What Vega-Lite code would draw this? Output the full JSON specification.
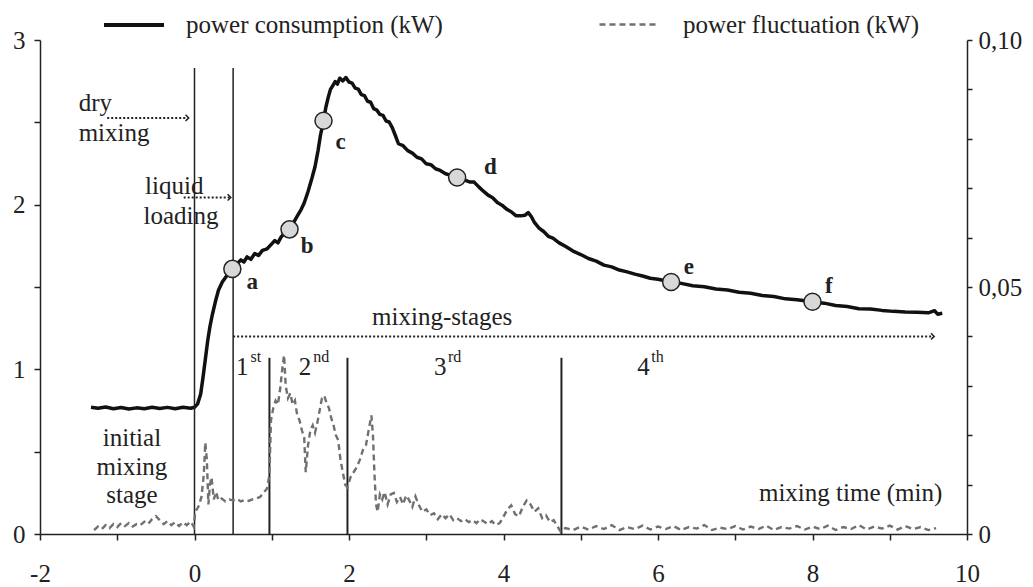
{
  "$schema": "https://vega.github.io/schema/vega-lite/v6.json",
  "width": 927,
  "height": 494,
  "autosize": {"type": "none"},
  "padding": {"left": 40, "top": 40, "right": 66, "bottom": 53},
  "background": "white",
  "config": {
    "view": {"stroke": null},
    "axis": {
      "grid": false,
      "domainColor": "#222222",
      "domainWidth": 1.5,
      "tickColor": "#222222",
      "tickWidth": 1.5,
      "tickSize": 6,
      "labelFont": "Liberation Serif",
      "labelFontSize": 25,
      "labelColor": "#222222",
      "title": null
    },
    "legend": {
      "padding": 0,
      "labelFont": "Liberation Serif",
      "labelFontSize": 25,
      "labelColor": "#222222",
      "labelLimit": 500,
      "symbolType": "stroke",
      "title": null
    }
  },
  "layer": [
    {
      "layer": [
        {
          "data": {"values": [
            {"x": -1.34, "y": 0.77}, {"x": -1.25, "y": 0.764}, {"x": -1.15, "y": 0.771}, {"x": -1.05, "y": 0.761},
            {"x": -0.95, "y": 0.768}, {"x": -0.85, "y": 0.759}, {"x": -0.75, "y": 0.766}, {"x": -0.65, "y": 0.761},
            {"x": -0.55, "y": 0.77}, {"x": -0.45, "y": 0.762}, {"x": -0.35, "y": 0.769}, {"x": -0.25, "y": 0.761},
            {"x": -0.15, "y": 0.77}, {"x": -0.05, "y": 0.764}, {"x": 0.0, "y": 0.77}, {"x": 0.04, "y": 0.79},
            {"x": 0.08, "y": 0.85}, {"x": 0.11, "y": 0.95}, {"x": 0.14, "y": 1.06}, {"x": 0.17, "y": 1.17},
            {"x": 0.2, "y": 1.26}, {"x": 0.23, "y": 1.33}, {"x": 0.27, "y": 1.41}, {"x": 0.31, "y": 1.48},
            {"x": 0.36, "y": 1.53}, {"x": 0.42, "y": 1.57}, {"x": 0.49, "y": 1.61}, {"x": 0.55, "y": 1.64},
            {"x": 0.6, "y": 1.665}, {"x": 0.64, "y": 1.652}, {"x": 0.68, "y": 1.683}, {"x": 0.73, "y": 1.668},
            {"x": 0.78, "y": 1.703}, {"x": 0.83, "y": 1.692}, {"x": 0.88, "y": 1.722}, {"x": 0.94, "y": 1.732},
            {"x": 1.0, "y": 1.762}, {"x": 1.04, "y": 1.782}, {"x": 1.08, "y": 1.768}, {"x": 1.12, "y": 1.803},
            {"x": 1.17, "y": 1.83}, {"x": 1.23, "y": 1.85}, {"x": 1.28, "y": 1.89}, {"x": 1.33, "y": 1.93},
            {"x": 1.38, "y": 1.97}, {"x": 1.42, "y": 2.01}, {"x": 1.47, "y": 2.08}, {"x": 1.52, "y": 2.16},
            {"x": 1.56, "y": 2.23}, {"x": 1.6, "y": 2.33}, {"x": 1.63, "y": 2.42}, {"x": 1.67, "y": 2.51},
            {"x": 1.7, "y": 2.59}, {"x": 1.73, "y": 2.65}, {"x": 1.76, "y": 2.7}, {"x": 1.79, "y": 2.722},
            {"x": 1.82, "y": 2.748}, {"x": 1.85, "y": 2.732}, {"x": 1.88, "y": 2.768}, {"x": 1.92, "y": 2.752},
            {"x": 1.96, "y": 2.772}, {"x": 2.0, "y": 2.745}, {"x": 2.04, "y": 2.738}, {"x": 2.08, "y": 2.708},
            {"x": 2.12, "y": 2.702}, {"x": 2.16, "y": 2.668}, {"x": 2.2, "y": 2.662}, {"x": 2.24, "y": 2.628},
            {"x": 2.28, "y": 2.622}, {"x": 2.32, "y": 2.583}, {"x": 2.36, "y": 2.574}, {"x": 2.4, "y": 2.548},
            {"x": 2.44, "y": 2.542}, {"x": 2.48, "y": 2.508}, {"x": 2.52, "y": 2.502}, {"x": 2.56, "y": 2.468},
            {"x": 2.6, "y": 2.42}, {"x": 2.64, "y": 2.37}, {"x": 2.7, "y": 2.358}, {"x": 2.76, "y": 2.328},
            {"x": 2.82, "y": 2.313}, {"x": 2.88, "y": 2.288}, {"x": 2.94, "y": 2.278}, {"x": 3.0, "y": 2.248},
            {"x": 3.06, "y": 2.243}, {"x": 3.12, "y": 2.218}, {"x": 3.18, "y": 2.208}, {"x": 3.25, "y": 2.188},
            {"x": 3.32, "y": 2.178}, {"x": 3.4, "y": 2.165}, {"x": 3.48, "y": 2.152}, {"x": 3.56, "y": 2.138},
            {"x": 3.62, "y": 2.137}, {"x": 3.68, "y": 2.108}, {"x": 3.74, "y": 2.082}, {"x": 3.8, "y": 2.058},
            {"x": 3.86, "y": 2.042}, {"x": 3.92, "y": 2.013}, {"x": 3.98, "y": 1.997}, {"x": 4.04, "y": 1.973},
            {"x": 4.1, "y": 1.957}, {"x": 4.16, "y": 1.933}, {"x": 4.22, "y": 1.932}, {"x": 4.28, "y": 1.936},
            {"x": 4.32, "y": 1.952}, {"x": 4.36, "y": 1.928}, {"x": 4.4, "y": 1.892}, {"x": 4.46, "y": 1.858},
            {"x": 4.52, "y": 1.837}, {"x": 4.58, "y": 1.808}, {"x": 4.64, "y": 1.797}, {"x": 4.72, "y": 1.768},
            {"x": 4.8, "y": 1.747}, {"x": 4.9, "y": 1.718}, {"x": 5.0, "y": 1.697}, {"x": 5.1, "y": 1.673},
            {"x": 5.2, "y": 1.657}, {"x": 5.3, "y": 1.633}, {"x": 5.4, "y": 1.622}, {"x": 5.5, "y": 1.603},
            {"x": 5.6, "y": 1.592}, {"x": 5.7, "y": 1.578}, {"x": 5.8, "y": 1.567}, {"x": 5.9, "y": 1.553},
            {"x": 6.0, "y": 1.547}, {"x": 6.17, "y": 1.53}, {"x": 6.3, "y": 1.522}, {"x": 6.45, "y": 1.508},
            {"x": 6.6, "y": 1.502}, {"x": 6.75, "y": 1.488}, {"x": 6.9, "y": 1.482}, {"x": 7.05, "y": 1.468},
            {"x": 7.2, "y": 1.462}, {"x": 7.35, "y": 1.448}, {"x": 7.5, "y": 1.442}, {"x": 7.65, "y": 1.428},
            {"x": 7.8, "y": 1.422}, {"x": 8.0, "y": 1.41}, {"x": 8.15, "y": 1.402}, {"x": 8.3, "y": 1.388},
            {"x": 8.45, "y": 1.382}, {"x": 8.6, "y": 1.368}, {"x": 8.75, "y": 1.366}, {"x": 8.9, "y": 1.358},
            {"x": 9.05, "y": 1.352}, {"x": 9.2, "y": 1.348}, {"x": 9.35, "y": 1.346}, {"x": 9.5, "y": 1.343},
            {"x": 9.58, "y": 1.356}, {"x": 9.62, "y": 1.335}, {"x": 9.68, "y": 1.34}
          ]},
          "mark": {"type": "line", "strokeWidth": 3.5, "strokeJoin": "round"},
          "encoding": {
            "x": {"field": "x", "type": "quantitative", "title": null,
              "scale": {"domain": [-2, 10], "nice": false, "zero": false},
              "axis": {"values": [-2,-1.5,-1,-0.5,0,0.5,1,1.5,2,2.5,3,3.5,4,4.5,5,5.5,6,6.5,7,7.5,8,8.5,9,9.5,10],
                "labelExpr": "datum.value % 2 == 0 ? toString(datum.value) : ''",
                "labelPadding": 21, "labelFlush": false, "labelOverlap": false}},
            "y": {"field": "y", "type": "quantitative", "title": null,
              "scale": {"domain": [0, 3], "nice": false},
              "axis": {"orient": "left", "values": [0,0.5,1,1.5,2,2.5,3],
                "labelExpr": "datum.value % 1 == 0 ? toString(datum.value) : ''",
                "labelPadding": 9, "labelFlush": false, "labelOverlap": false}},
            "color": {"datum": "power consumption (kW)", "type": "nominal",
              "scale": {"range": ["#111111"]},
              "legend": {"orient": "none", "legendX": 62, "legendY": -47, "symbolSize": 3600,
                "symbolStrokeWidth": 4, "labelOffset": 20}}
          }
        },
        {
          "data": {"values": [{"x": 0, "y": 0, "y2": 2.83}, {"x": 0.5, "y": 0, "y2": 2.83}]},
          "mark": {"type": "rule", "color": "#222222", "strokeWidth": 1.5},
          "encoding": {
            "x": {"field": "x", "type": "quantitative", "title": null},
            "y": {"field": "y", "type": "quantitative", "title": null},
            "y2": {"field": "y2"}
          }
        },
        {
          "data": {"values": [{"x": 0.97, "y": 0, "y2": 1.07}, {"x": 1.98, "y": 0, "y2": 1.07}, {"x": 4.75, "y": 0, "y2": 1.07}]},
          "mark": {"type": "rule", "color": "#222222", "strokeWidth": 2},
          "encoding": {
            "x": {"field": "x", "type": "quantitative", "title": null},
            "y": {"field": "y", "type": "quantitative", "title": null},
            "y2": {"field": "y2"}
          }
        },
        {
          "data": {"values": [
            {"x": -1.13, "x2": -0.09, "y": 2.527},
            {"x": -0.14, "x2": 0.455, "y": 2.044},
            {"x": 0.5, "x2": 9.56, "y": 1.2}
          ]},
          "mark": {"type": "rule", "color": "#222222", "strokeWidth": 2, "strokeDash": [2, 2]},
          "encoding": {
            "x": {"field": "x", "type": "quantitative", "title": null},
            "x2": {"field": "x2"},
            "y": {"field": "y", "type": "quantitative", "title": null}
          }
        },
        {
          "data": {"values": [
            {"x": -0.075, "y": 2.527},
            {"x": 0.47, "y": 2.044},
            {"x": 9.575, "y": 1.2}
          ]},
          "mark": {"type": "point", "shape": "M-1,-1L0,0L-1,1", "filled": false, "size": 40, "color": "#222222", "strokeWidth": 1.5, "opacity": 1},
          "encoding": {
            "x": {"field": "x", "type": "quantitative", "title": null},
            "y": {"field": "y", "type": "quantitative", "title": null}
          }
        },
        {
          "data": {"values": [
            {"x": 0.49, "y": 1.61}, {"x": 1.23, "y": 1.85}, {"x": 1.67, "y": 2.51},
            {"x": 3.4, "y": 2.165}, {"x": 6.17, "y": 1.53}, {"x": 8.0, "y": 1.41}
          ]},
          "mark": {"type": "point", "shape": "circle", "filled": true, "size": 290, "fill": "#d8d8d8", "stroke": "#222222", "strokeWidth": 1.5, "opacity": 1},
          "encoding": {
            "x": {"field": "x", "type": "quantitative", "title": null},
            "y": {"field": "y", "type": "quantitative", "title": null}
          }
        },
        {
          "data": {"values": [
            {"x": 0.747, "y": 1.53, "t": "a"}, {"x": 1.459, "y": 1.752, "t": "b"}, {"x": 1.89, "y": 2.378, "t": "c"},
            {"x": 3.83, "y": 2.226, "t": "d"}, {"x": 6.4, "y": 1.62, "t": "e"}, {"x": 8.21, "y": 1.509, "t": "f"}
          ]},
          "mark": {"type": "text", "font": "Liberation Serif", "fontSize": 23, "fontWeight": "bold", "color": "#222222", "align": "center", "baseline": "middle"},
          "encoding": {
            "x": {"field": "x", "type": "quantitative", "title": null},
            "y": {"field": "y", "type": "quantitative", "title": null},
            "text": {"field": "t"}
          }
        },
        {
          "data": {"values": [
            {"x": -1.5, "y": 2.57, "t": "dry"},
            {"x": -1.5, "y": 2.385, "t": "mixing"},
            {"x": -0.64, "y": 2.067, "t": "liquid"},
            {"x": -0.66, "y": 1.885, "t": "loading"}
          ]},
          "mark": {"type": "text", "font": "Liberation Serif", "fontSize": 25, "color": "#222222", "align": "left", "baseline": "alphabetic"},
          "encoding": {
            "x": {"field": "x", "type": "quantitative", "title": null},
            "y": {"field": "y", "type": "quantitative", "title": null},
            "text": {"field": "t"}
          }
        },
        {
          "data": {"values": [
            {"x": 3.206, "y": 1.272, "t": "mixing-stages"},
            {"x": -0.81, "y": 0.532, "t": "initial"},
            {"x": -0.81, "y": 0.357, "t": "mixing"},
            {"x": -0.81, "y": 0.19, "t": "stage"}
          ]},
          "mark": {"type": "text", "font": "Liberation Serif", "fontSize": 25, "color": "#222222", "align": "center", "baseline": "alphabetic"},
          "encoding": {
            "x": {"field": "x", "type": "quantitative", "title": null},
            "y": {"field": "y", "type": "quantitative", "title": null},
            "text": {"field": "t"}
          }
        },
        {
          "data": {"values": [{"x": 9.68, "y": 0.2, "t": "mixing time (min)"}]},
          "mark": {"type": "text", "font": "Liberation Serif", "fontSize": 25, "color": "#222222", "align": "right", "baseline": "alphabetic"},
          "encoding": {
            "x": {"field": "x", "type": "quantitative", "title": null},
            "y": {"field": "y", "type": "quantitative", "title": null},
            "text": {"field": "t"}
          }
        },
        {
          "data": {"values": [
            {"x": 0.7, "y": 0.964, "t": "1"}, {"x": 1.51, "y": 0.964, "t": "2"},
            {"x": 3.262, "y": 0.964, "t": "3"}, {"x": 5.894, "y": 0.964, "t": "4"}
          ]},
          "mark": {"type": "text", "font": "Liberation Serif", "fontSize": 25, "color": "#222222", "align": "right", "baseline": "alphabetic"},
          "encoding": {
            "x": {"field": "x", "type": "quantitative", "title": null},
            "y": {"field": "y", "type": "quantitative", "title": null},
            "text": {"field": "t"}
          }
        },
        {
          "data": {"values": [
            {"x": 0.725, "y": 1.044, "t": "st"}, {"x": 1.537, "y": 1.044, "t": "nd"},
            {"x": 3.28, "y": 1.044, "t": "rd"}, {"x": 5.912, "y": 1.044, "t": "th"}
          ]},
          "mark": {"type": "text", "font": "Liberation Serif", "fontSize": 16, "color": "#222222", "align": "left", "baseline": "alphabetic"},
          "encoding": {
            "x": {"field": "x", "type": "quantitative", "title": null},
            "y": {"field": "y", "type": "quantitative", "title": null},
            "text": {"field": "t"}
          }
        }
      ]
    },
    {
      "data": {"values": [
        {"x": -1.3, "v": 0.0008}, {"x": -1.25, "v": 0.0015}, {"x": -1.2, "v": 0.001}, {"x": -1.15, "v": 0.0018},
        {"x": -1.1, "v": 0.0012}, {"x": -1.05, "v": 0.002}, {"x": -1.0, "v": 0.0014}, {"x": -0.95, "v": 0.0022},
        {"x": -0.9, "v": 0.0016}, {"x": -0.85, "v": 0.0022}, {"x": -0.8, "v": 0.0015}, {"x": -0.75, "v": 0.002},
        {"x": -0.7, "v": 0.0018}, {"x": -0.65, "v": 0.0025}, {"x": -0.6, "v": 0.002}, {"x": -0.55, "v": 0.003},
        {"x": -0.5, "v": 0.0036}, {"x": -0.45, "v": 0.0028}, {"x": -0.4, "v": 0.002}, {"x": -0.35, "v": 0.0026},
        {"x": -0.3, "v": 0.0018}, {"x": -0.25, "v": 0.0024}, {"x": -0.2, "v": 0.0016}, {"x": -0.15, "v": 0.0024},
        {"x": -0.1, "v": 0.0018}, {"x": -0.05, "v": 0.0025}, {"x": -0.01, "v": 0.0015}, {"x": 0.01, "v": 0.0045},
        {"x": 0.05, "v": 0.0055}, {"x": 0.09, "v": 0.0075}, {"x": 0.12, "v": 0.012}, {"x": 0.14, "v": 0.0185},
        {"x": 0.16, "v": 0.015}, {"x": 0.18, "v": 0.006}, {"x": 0.2, "v": 0.01}, {"x": 0.22, "v": 0.0115},
        {"x": 0.25, "v": 0.007}, {"x": 0.28, "v": 0.0085}, {"x": 0.31, "v": 0.0068}, {"x": 0.35, "v": 0.0072},
        {"x": 0.4, "v": 0.0066}, {"x": 0.45, "v": 0.007}, {"x": 0.5, "v": 0.0068}, {"x": 0.55, "v": 0.0071},
        {"x": 0.6, "v": 0.0066}, {"x": 0.65, "v": 0.0069}, {"x": 0.7, "v": 0.0067}, {"x": 0.75, "v": 0.007},
        {"x": 0.8, "v": 0.0072}, {"x": 0.85, "v": 0.0075}, {"x": 0.9, "v": 0.0085}, {"x": 0.94, "v": 0.0092},
        {"x": 0.97, "v": 0.012}, {"x": 0.99, "v": 0.023}, {"x": 1.02, "v": 0.0255}, {"x": 1.05, "v": 0.027},
        {"x": 1.08, "v": 0.0262}, {"x": 1.11, "v": 0.0295}, {"x": 1.14, "v": 0.034}, {"x": 1.16, "v": 0.0362},
        {"x": 1.18, "v": 0.03}, {"x": 1.21, "v": 0.0275}, {"x": 1.24, "v": 0.0285}, {"x": 1.27, "v": 0.0262},
        {"x": 1.3, "v": 0.027}, {"x": 1.33, "v": 0.024}, {"x": 1.36, "v": 0.023}, {"x": 1.39, "v": 0.021},
        {"x": 1.42, "v": 0.0195}, {"x": 1.44, "v": 0.0125}, {"x": 1.47, "v": 0.018}, {"x": 1.5, "v": 0.021},
        {"x": 1.53, "v": 0.022}, {"x": 1.56, "v": 0.0205}, {"x": 1.59, "v": 0.0225}, {"x": 1.62, "v": 0.025},
        {"x": 1.65, "v": 0.0275}, {"x": 1.68, "v": 0.028}, {"x": 1.71, "v": 0.0265}, {"x": 1.74, "v": 0.0255},
        {"x": 1.77, "v": 0.0235}, {"x": 1.8, "v": 0.022}, {"x": 1.83, "v": 0.02}, {"x": 1.86, "v": 0.019},
        {"x": 1.89, "v": 0.015}, {"x": 1.92, "v": 0.0125}, {"x": 1.95, "v": 0.01}, {"x": 1.98, "v": 0.0095},
        {"x": 2.02, "v": 0.0115}, {"x": 2.06, "v": 0.0125}, {"x": 2.1, "v": 0.0135}, {"x": 2.14, "v": 0.015},
        {"x": 2.18, "v": 0.017}, {"x": 2.22, "v": 0.018}, {"x": 2.26, "v": 0.0215}, {"x": 2.29, "v": 0.024},
        {"x": 2.31, "v": 0.02}, {"x": 2.33, "v": 0.012}, {"x": 2.35, "v": 0.006}, {"x": 2.37, "v": 0.0045},
        {"x": 2.4, "v": 0.008}, {"x": 2.43, "v": 0.007}, {"x": 2.46, "v": 0.0085}, {"x": 2.5, "v": 0.006},
        {"x": 2.54, "v": 0.008}, {"x": 2.58, "v": 0.0083}, {"x": 2.62, "v": 0.0065}, {"x": 2.66, "v": 0.0075},
        {"x": 2.7, "v": 0.006}, {"x": 2.74, "v": 0.0078}, {"x": 2.78, "v": 0.0068}, {"x": 2.82, "v": 0.0055},
        {"x": 2.86, "v": 0.0076}, {"x": 2.9, "v": 0.006}, {"x": 2.95, "v": 0.0045}, {"x": 3.0, "v": 0.005},
        {"x": 3.05, "v": 0.0038}, {"x": 3.1, "v": 0.0042}, {"x": 3.15, "v": 0.003}, {"x": 3.2, "v": 0.004},
        {"x": 3.25, "v": 0.0032}, {"x": 3.3, "v": 0.004}, {"x": 3.35, "v": 0.0028}, {"x": 3.4, "v": 0.0032},
        {"x": 3.45, "v": 0.0026}, {"x": 3.5, "v": 0.003}, {"x": 3.55, "v": 0.0024}, {"x": 3.6, "v": 0.0028},
        {"x": 3.65, "v": 0.0022}, {"x": 3.7, "v": 0.003}, {"x": 3.75, "v": 0.0025}, {"x": 3.8, "v": 0.002},
        {"x": 3.85, "v": 0.0026}, {"x": 3.9, "v": 0.0018}, {"x": 3.95, "v": 0.0022}, {"x": 4.0, "v": 0.0035},
        {"x": 4.05, "v": 0.005}, {"x": 4.1, "v": 0.0058}, {"x": 4.15, "v": 0.004}, {"x": 4.2, "v": 0.0036},
        {"x": 4.25, "v": 0.0055}, {"x": 4.3, "v": 0.0068}, {"x": 4.35, "v": 0.006}, {"x": 4.4, "v": 0.0045},
        {"x": 4.45, "v": 0.0052}, {"x": 4.5, "v": 0.0032}, {"x": 4.55, "v": 0.0038}, {"x": 4.6, "v": 0.0024},
        {"x": 4.65, "v": 0.0028}, {"x": 4.7, "v": 0.0015}, {"x": 4.74, "v": 0.0005}, {"x": 4.8, "v": 0.0012},
        {"x": 4.9, "v": 0.0008}, {"x": 5.0, "v": 0.0015}, {"x": 5.1, "v": 0.0009}, {"x": 5.2, "v": 0.0016},
        {"x": 5.3, "v": 0.001}, {"x": 5.4, "v": 0.0018}, {"x": 5.5, "v": 0.0008}, {"x": 5.6, "v": 0.0014},
        {"x": 5.7, "v": 0.001}, {"x": 5.8, "v": 0.0017}, {"x": 5.9, "v": 0.0009}, {"x": 6.0, "v": 0.0015},
        {"x": 6.1, "v": 0.001}, {"x": 6.2, "v": 0.0016}, {"x": 6.3, "v": 0.0008}, {"x": 6.4, "v": 0.0014},
        {"x": 6.5, "v": 0.0011}, {"x": 6.6, "v": 0.0018}, {"x": 6.7, "v": 0.0008}, {"x": 6.8, "v": 0.0013},
        {"x": 6.9, "v": 0.001}, {"x": 7.0, "v": 0.0016}, {"x": 7.1, "v": 0.0009}, {"x": 7.2, "v": 0.0015},
        {"x": 7.3, "v": 0.001}, {"x": 7.4, "v": 0.0017}, {"x": 7.5, "v": 0.0008}, {"x": 7.6, "v": 0.0014},
        {"x": 7.7, "v": 0.0011}, {"x": 7.8, "v": 0.0016}, {"x": 7.9, "v": 0.0009}, {"x": 8.0, "v": 0.0015},
        {"x": 8.1, "v": 0.001}, {"x": 8.2, "v": 0.0017}, {"x": 8.3, "v": 0.0008}, {"x": 8.4, "v": 0.0014},
        {"x": 8.5, "v": 0.001}, {"x": 8.6, "v": 0.0018}, {"x": 8.7, "v": 0.0009}, {"x": 8.8, "v": 0.0015},
        {"x": 8.9, "v": 0.0011}, {"x": 9.0, "v": 0.0017}, {"x": 9.1, "v": 0.0009}, {"x": 9.2, "v": 0.0016},
        {"x": 9.3, "v": 0.001}, {"x": 9.4, "v": 0.0014}, {"x": 9.5, "v": 0.0008}, {"x": 9.6, "v": 0.0012}
      ]},
      "mark": {"type": "line", "stroke": "#707070", "strokeWidth": 2.4},
      "encoding": {
        "x": {"field": "x", "type": "quantitative", "title": null},
        "y": {"field": "v", "type": "quantitative", "title": null,
          "scale": {"domain": [0, 0.1], "nice": false},
          "axis": {"orient": "right", "values": [0,0.01,0.02,0.03,0.04,0.05,0.06,0.07,0.08,0.09,0.1],
            "tickSize": 5,
            "labelExpr": "datum.value == 0 ? '0' : (abs(datum.value - 0.05) < 0.000001 || abs(datum.value - 0.1) < 0.000001) ? replace(format(datum.value, '.2f'), '.', ',') : ''",
            "labelPadding": 6, "labelFlush": false, "labelOverlap": false}},
        "strokeDash": {"datum": "power fluctuation (kW)", "type": "nominal",
          "scale": {"range": [[6, 4]]},
          "legend": {"orient": "none", "legendX": 558, "legendY": -47, "symbolSize": 3600,
            "symbolStrokeColor": "#707070", "symbolStrokeWidth": 2.5, "labelOffset": 22}}
      }
    }
  ],
  "resolve": {"scale": {"y": "independent"}}
}
